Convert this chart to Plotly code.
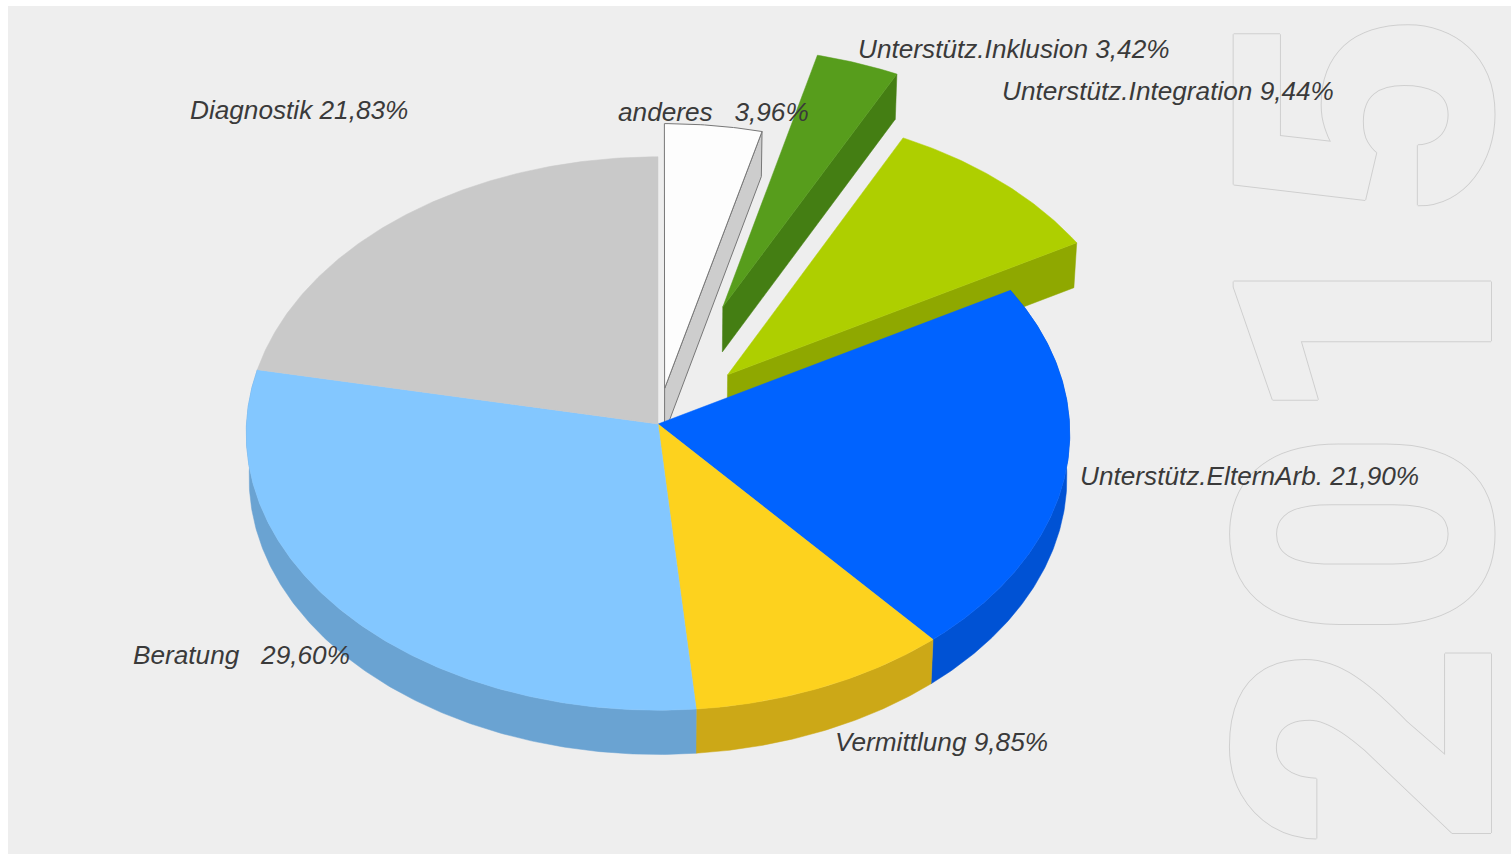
import numpy as np
import plotly.graph_objects as go

# --- data (clockwise from 12 o'clock) ---
categories = ["anderes", "Unterstütz.Inklusion", "Unterstütz.Integration",
              "Unterstütz.ElternArb.", "Vermittlung", "Beratung", "Diagnostik"]
values = [3.96, 3.42, 9.44, 21.90, 9.85, 29.60, 21.83]
year_label = "2015"

# --- styles ---
explode = [0.13, 0.458, 0.247, 0, 0, 0, 0]
top_colors = ["#FDFDFD", "#579D1C", "#AECF00", "#0063FF", "#FDD21E", "#83C7FF", "#C9C9C9"]
wall_colors = ["#CDCDCD", "#447E13", "#8FA800", "#0052D4", "#CCA817", "#6AA3D2", "#A0A0A0"]
edge_colors = ["#777777", "#579D1C", "#AECF00", "#0063FF", "#FDD21E", "#83C7FF", "#C9C9C9"]
label_sep = ["\u00a0\u00a0\u00a0", " ", " ", " ", " ", "\u00a0\u00a0\u00a0", " "]
label_pos = [(618, 112), (858, 49), (1002, 91), (1080, 476), (835, 742), (133, 655), (190, 110)]

# --- projection of the tilted pie ---
CX, CY, R, K, P, Q, D = 658, 424, 411.5, 276.4, 0.0344, 0.007, 45


def project(u, v, z):
    den = 1 + P * v + Q * z
    return CX + R * u / den, CY - K * v / den + D * z / den


def arc(t0, t1, du, dv, z):
    th = np.radians(np.linspace(t0, t1, max(int(abs(t1 - t0) * 2), 2)))
    return project(np.sin(th) + du, np.cos(th) + dv, z)


fig = go.Figure()


def poly(x, y, fill, edge, width):
    fig.add_trace(go.Scatter(x=list(x), y=list(y), mode="lines", fill="toself",
                             fillcolor=fill, line=dict(color=edge, width=width),
                             hoverinfo="skip", showlegend=False))


edges = np.concatenate([[0], np.cumsum(values)]) / sum(values) * 360

# exploded slices first, then the main body walls, then its tops
for i in [0, 1, 2]:
    t0, t1 = edges[i], edges[i + 1]
    mid = np.radians((t0 + t1) / 2)
    du, dv = explode[i] * np.sin(mid), explode[i] * np.cos(mid)
    ax, ay = project(du, dv, 0)
    bx, by = project(du, dv, 1)
    ox, oy = project(np.sin(np.radians(t1)) + du, np.cos(np.radians(t1)) + dv, 0)
    px, py = project(np.sin(np.radians(t1)) + du, np.cos(np.radians(t1)) + dv, 1)
    w = 1 if i == 0 else 0.5
    poly([ax, ox, px, bx, ax], [ay, oy, py, by, ay], wall_colors[i],
         edge_colors[i] if i == 0 else wall_colors[i], w)
    x, y = arc(t0, t1, du, dv, 0)
    poly(np.r_[ax, x, ax], np.r_[ay, y, ay], top_colors[i], edge_colors[i], w)

for i in range(3, 6):
    t0, t1 = edges[i], edges[i + 1]
    x, y = arc(t0, t1, 0, 0, 0)
    x2, y2 = arc(t1, t0, 0, 0, 1)
    poly(np.r_[x, x2, x[0]], np.r_[y, y2, y[0]], wall_colors[i], wall_colors[i], 0.5)

for i in range(3, 7):
    t0, t1 = edges[i], edges[i + 1]
    ax, ay = project(0, 0, 0)
    x, y = arc(t0, t1, 0, 0, 0)
    poly(np.r_[ax, x, ax], np.r_[ay, y, ay], top_colors[i], edge_colors[i], 0.5)

# year watermark, outlined
annotations = [dict(x=1367, y=430, xref="x", yref="y", text=year_label, textangle=-90,
                    showarrow=False, xanchor="center", yanchor="middle",
                    font=dict(family="Roboto", size=362, weight=900, color="#EEEEEE",
                              shadow="1px 0 0 #CFCFCF, -1px 0 0 #CFCFCF, 0 1px 0 #CFCFCF, 0 -1px 0 #CFCFCF"))]

for name, val, sep, (lx, ly) in zip(categories, values, label_sep, label_pos):
    annotations.append(dict(x=lx - 2, y=ly, xref="x", yref="y", showarrow=False,
                            xanchor="left", yanchor="middle",
                            text=name + sep + f"{val:.2f}".replace(".", ",") + "%",
                            font=dict(family="Liberation Sans", size=26.2, style="italic", color="#3A3A3A")))

fig.update_layout(
    width=1511, height=854, margin=dict(l=0, r=0, t=0, b=0),
    paper_bgcolor="#FFFFFF", plot_bgcolor="#FFFFFF", showlegend=False,
    xaxis=dict(range=[0, 1511], visible=False, fixedrange=True),
    yaxis=dict(range=[854, 0], visible=False, fixedrange=True),
    shapes=[dict(type="rect", xref="x", yref="y", x0=8, x1=1511, y0=6, y1=854,
                 fillcolor="#EEEEEE", line_width=0, layer="below")],
    annotations=annotations,
)

fig.write_html("out.html", config=dict(displayModeBar=False, staticPlot=True),
               post_script="document.body.style.margin='0';document.body.style.overflow='hidden';")
